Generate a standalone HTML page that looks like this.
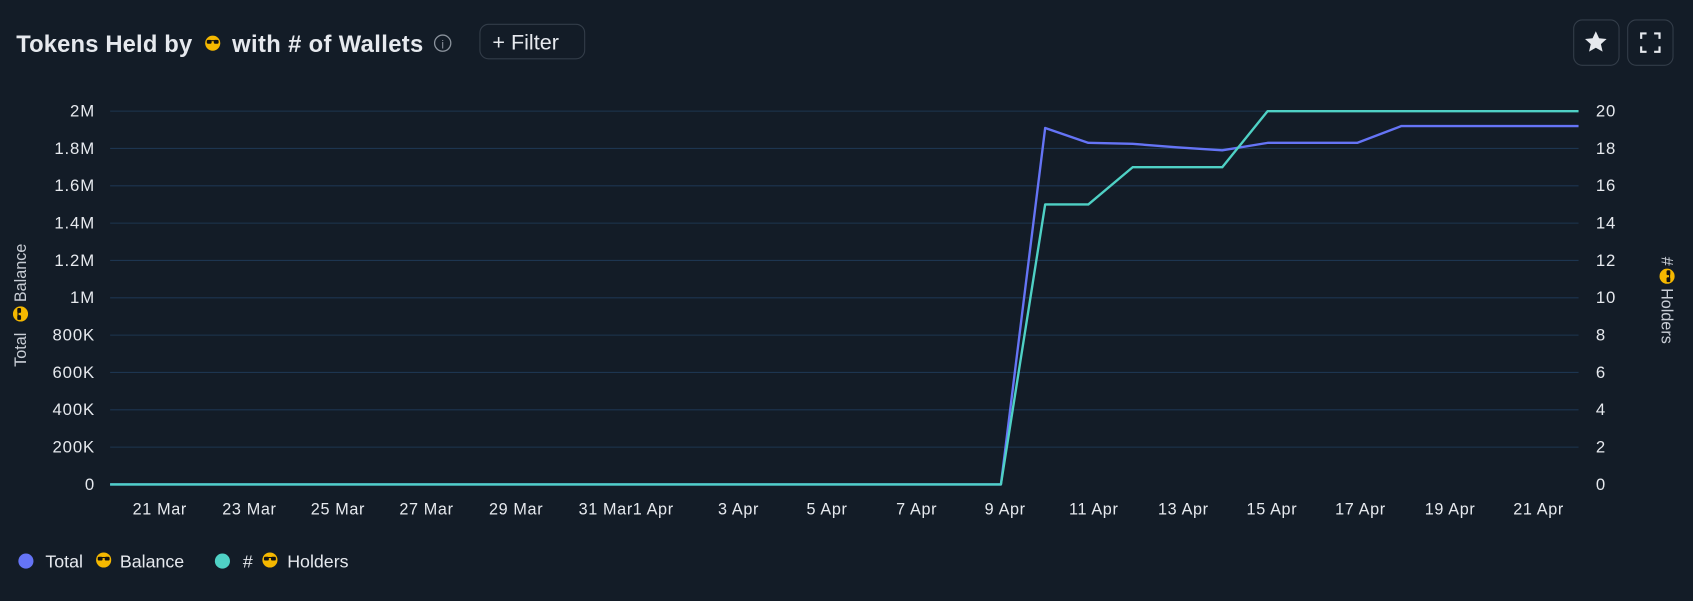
<!DOCTYPE html>
<html><head><meta charset="utf-8"><style>
html,body{margin:0;padding:0;background:#131c27;}
svg{display:block;}
text{font-family:"Liberation Sans",sans-serif;fill:#e6e9ee;}
</style></head><body>
<svg width="1693" height="601" viewBox="0 0 1568 557" preserveAspectRatio="none" xmlns="http://www.w3.org/2000/svg">
<defs>
<g id="emo"><circle cx="0" cy="0" r="7" fill="#f5b800"/><rect x="-5.5" y="-3" width="4.5" height="3.5" rx="1.2" fill="#111"/><rect x="1" y="-3" width="4.5" height="3.5" rx="1.2" fill="#111"/><rect x="-1.5" y="-2.8" width="3" height="1" fill="#111"/></g>
</defs>
<rect width="1568" height="557" fill="#131c27"/>
<text x="15" y="48" font-size="22" font-weight="bold" textLength="163">Tokens Held by</text>
<use href="#emo" x="197" y="40"/>
<text x="215" y="48" font-size="22" font-weight="bold" textLength="177">with # of Wallets</text>
<circle cx="410" cy="40" r="7.5" fill="none" stroke="#8a929c" stroke-width="1.2"/>
<text x="410" y="45" font-size="11" text-anchor="middle" style="fill:#8a929c">i</text>
<rect x="444.5" y="22.5" width="97" height="32" rx="8" fill="none" stroke="#333d49"/>
<text x="456" y="46" font-size="20">+ Filter</text>
<rect x="1457.5" y="18.5" width="42" height="42" rx="8" fill="none" stroke="#333d49"/>
<path d="M1478 29 l3 6.5 7 .7 -5.3 4.7 1.6 7 -6.3-3.7 -6.3 3.7 1.6-7 -5.3-4.7 7-.7z" fill="#e6e9ee"/>
<rect x="1507.5" y="18.5" width="42" height="42" rx="8" fill="none" stroke="#333d49"/>
<path d="M1520 36v-5h5 M1532 31h5v5 M1537 43v5h-5 M1525 48h-5v-5" fill="none" stroke="#e6e9ee" stroke-width="2"/>
<g stroke="#1d3550" stroke-width="1">
<line x1="102" x2="1462" y1="103" y2="103"/><line x1="102" x2="1462" y1="137.6" y2="137.6"/><line x1="102" x2="1462" y1="172.2" y2="172.2"/><line x1="102" x2="1462" y1="206.8" y2="206.8"/><line x1="102" x2="1462" y1="241.4" y2="241.4"/><line x1="102" x2="1462" y1="276" y2="276"/><line x1="102" x2="1462" y1="310.6" y2="310.6"/><line x1="102" x2="1462" y1="345.2" y2="345.2"/><line x1="102" x2="1462" y1="379.8" y2="379.8"/><line x1="102" x2="1462" y1="414.4" y2="414.4"/>
</g>
<g font-size="15.5" text-anchor="end" letter-spacing="0.8">
<text x="88" y="108">2M</text><text x="88" y="142.6">1.8M</text><text x="88" y="177.2">1.6M</text><text x="88" y="211.8">1.4M</text><text x="88" y="246.4">1.2M</text><text x="88" y="281">1M</text><text x="88" y="315.6">800K</text><text x="88" y="350.2">600K</text><text x="88" y="384.8">400K</text><text x="88" y="419.4">200K</text><text x="88" y="454">0</text>
</g>
<g font-size="15.5" letter-spacing="0.8">
<text x="1478" y="108">20</text><text x="1478" y="142.6">18</text><text x="1478" y="177.2">16</text><text x="1478" y="211.8">14</text><text x="1478" y="246.4">12</text><text x="1478" y="281">10</text><text x="1478" y="315.6">8</text><text x="1478" y="350.2">6</text><text x="1478" y="384.8">4</text><text x="1478" y="419.4">2</text><text x="1478" y="454">0</text>
</g>
<g font-size="15" text-anchor="middle" letter-spacing="0.6">
<text x="148" y="477">21 Mar</text><text x="231" y="477">23 Mar</text><text x="313" y="477">25 Mar</text><text x="395" y="477">27 Mar</text><text x="478" y="477">29 Mar</text><text x="561" y="477">31 Mar</text><text x="605" y="477">1 Apr</text><text x="684" y="477">3 Apr</text><text x="766" y="477">5 Apr</text><text x="849" y="477">7 Apr</text><text x="931" y="477">9 Apr</text><text x="1013" y="477">11 Apr</text><text x="1096" y="477">13 Apr</text><text x="1178" y="477">15 Apr</text><text x="1260" y="477">17 Apr</text><text x="1343" y="477">19 Apr</text><text x="1425" y="477">21 Apr</text>
</g>
<g transform="translate(24,282) rotate(-90)"><text x="-58" y="0" font-size="15" style="fill:#c9ced6">Total</text><use href="#emo" x="-9" y="-5"/><text x="2" y="0" font-size="15" style="fill:#c9ced6">Balance</text></g>
<g transform="translate(1539,282) rotate(90)"><text x="-44" y="0" font-size="15" style="fill:#c9ced6">#</text><use href="#emo" x="-26" y="-5"/><text x="-15" y="0" font-size="15" style="fill:#c9ced6">Holders</text></g>
<polyline fill="none" stroke="#6574f6" stroke-width="2.2" stroke-linejoin="round" points="102,449 927,449 968,118.6 1008,132.4 1049,133.3 1090,136.5 1132,139.3 1174,132.4 1257,132.4 1298,116.8 1462,116.8"/>
<polyline fill="none" stroke="#4fd1c5" stroke-width="2.2" stroke-linejoin="round" points="102,449 927,449 968,189.5 1008,189.5 1049,155 1132,155 1174,103 1462,103"/>
<circle cx="24" cy="520" r="7" fill="#6574f6"/>
<text x="42" y="526" font-size="16.5">Total</text><use href="#emo" x="96" y="519"/><text x="111" y="526" font-size="16.5">Balance</text>
<circle cx="206" cy="520" r="7" fill="#4fd1c5"/>
<text x="225" y="526" font-size="16.5">#</text><use href="#emo" x="250" y="519"/><text x="266" y="526" font-size="16.5">Holders</text>
</svg>
</body></html>
